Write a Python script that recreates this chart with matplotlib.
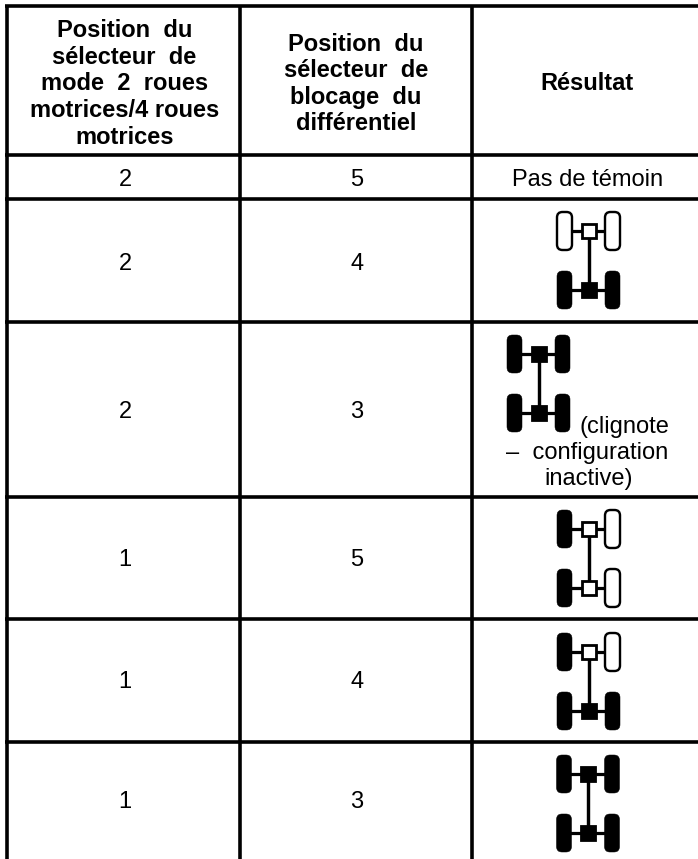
import matplotlib
matplotlib.use("Agg")
import matplotlib.pyplot as plt
from matplotlib.patches import FancyBboxPatch, Rectangle

plt.rcParams['font.family'] = ['Liberation Sans', 'DejaVu Sans']

headers = ["Position  du\nsélecteur  de\nmode  2  roues\nmotrices/4 roues\nmotrices",
           "Position  du\nsélecteur  de\nblocage  du\ndifférentiel",
           "Résultat"]
mode_pos = ["2", "2", "2", "1", "1", "1"]
diff_pos = ["5", "4", "3", "5", "4", "3"]
# wheel / hub state per row: front-left, front-right, front hub, rear-left, rear-right, rear hub (1 = lit)
icon_states = [None,
               (0, 0, 0, 1, 1, 1),
               (1, 1, 1, 1, 1, 1),
               (1, 0, 0, 1, 0, 0),
               (1, 0, 0, 1, 1, 1),
               (1, 1, 1, 1, 1, 1)]
no_light = "Pas de témoin"
blink_lines = ["(clignote", "–  configuration", "inactive)"]

col_lines = [7, 240, 472]
row_lines = [6, 155, 199, 322, 497, 619, 742]
row_centers = [179.5, 263.5, 412, 560.5, 682.5, 802.5]
icon_tops = [None, 212, 335, 510, 633, 755]
icon_centers = [None, 588.5, 538.5, 588.5, 588.5, 588]

fig = plt.figure(figsize=(6.98, 8.59), dpi=100)
ax = fig.add_axes([0, 0, 1, 1])
ax.set_xlim(0, 698)
ax.set_ylim(859, 0)
ax.axis('off')

px = 0.72
lw = 3.6 * px
for x in col_lines:
    ax.plot([x, x], [row_lines[0], 859], color='black', lw=lw, solid_capstyle='butt')
for y in row_lines:
    ax.plot([col_lines[0] - 2, 698], [y, y], color='black', lw=lw, solid_capstyle='butt')

FS = 17.0
for i, h in enumerate(headers):
    cx = [124.5, 356, 587][i]
    ax.text(cx, 84, h, ha='center', va='center', fontsize=FS, fontweight='bold',
            linespacing=1.2, color='black')

for m, d, y in zip(mode_pos, diff_pos, row_centers):
    ax.text(125, y, m, ha='center', va='center', fontsize=FS, color='black')
    ax.text(357, y, d, ha='center', va='center', fontsize=FS, color='black')

ax.text(588, 180, no_light, ha='center', va='center', fontsize=FS, color='black')
ax.text(624, 427, blink_lines[0], ha='center', va='center', fontsize=FS)
ax.text(587.5, 453.5, blink_lines[1], ha='center', va='center', fontsize=FS)
ax.text(589, 479, blink_lines[2], ha='center', va='center', fontsize=FS)


def wheel(x, y, filled):
    w, h = 15, 38
    r = 5.5
    ax.add_patch(FancyBboxPatch((x - w / 2 + r, y - h / 2 + r), w - 2 * r, h - 2 * r,
                                boxstyle=f"round,pad={r},rounding_size={r}",
                                fc='black' if filled else 'white', ec='black',
                                lw=(0.5 if filled else 2.4) * px, zorder=3))


def hub(x, y, filled):
    s = 14
    ax.add_patch(Rectangle((x - s / 2, y - s / 2), s, s, fc='black' if filled else 'white',
                           ec='black', lw=2.8 * px, zorder=4))


def icon(cx, top, st):
    fl, fr, fh, rl, rr, rh = st
    fy, ry = top + 19, top + 78
    ax.plot([cx, cx], [fy, ry], color='black', lw=3.4 * px, zorder=2, solid_capstyle='butt')
    for y, l, r, h in ((fy, fl, fr, fh), (ry, rl, rr, rh)):
        ax.plot([cx - 24, cx + 24], [y, y], color='black', lw=3.2 * px, zorder=2)
        wheel(cx - 24, y, l)
        wheel(cx + 24, y, r)
        hub(cx, y, h)


for st, cx, top in zip(icon_states, icon_centers, icon_tops):
    if st is not None:
        icon(cx, top, st)

fig.savefig("out.png", dpi=100, facecolor='white')
